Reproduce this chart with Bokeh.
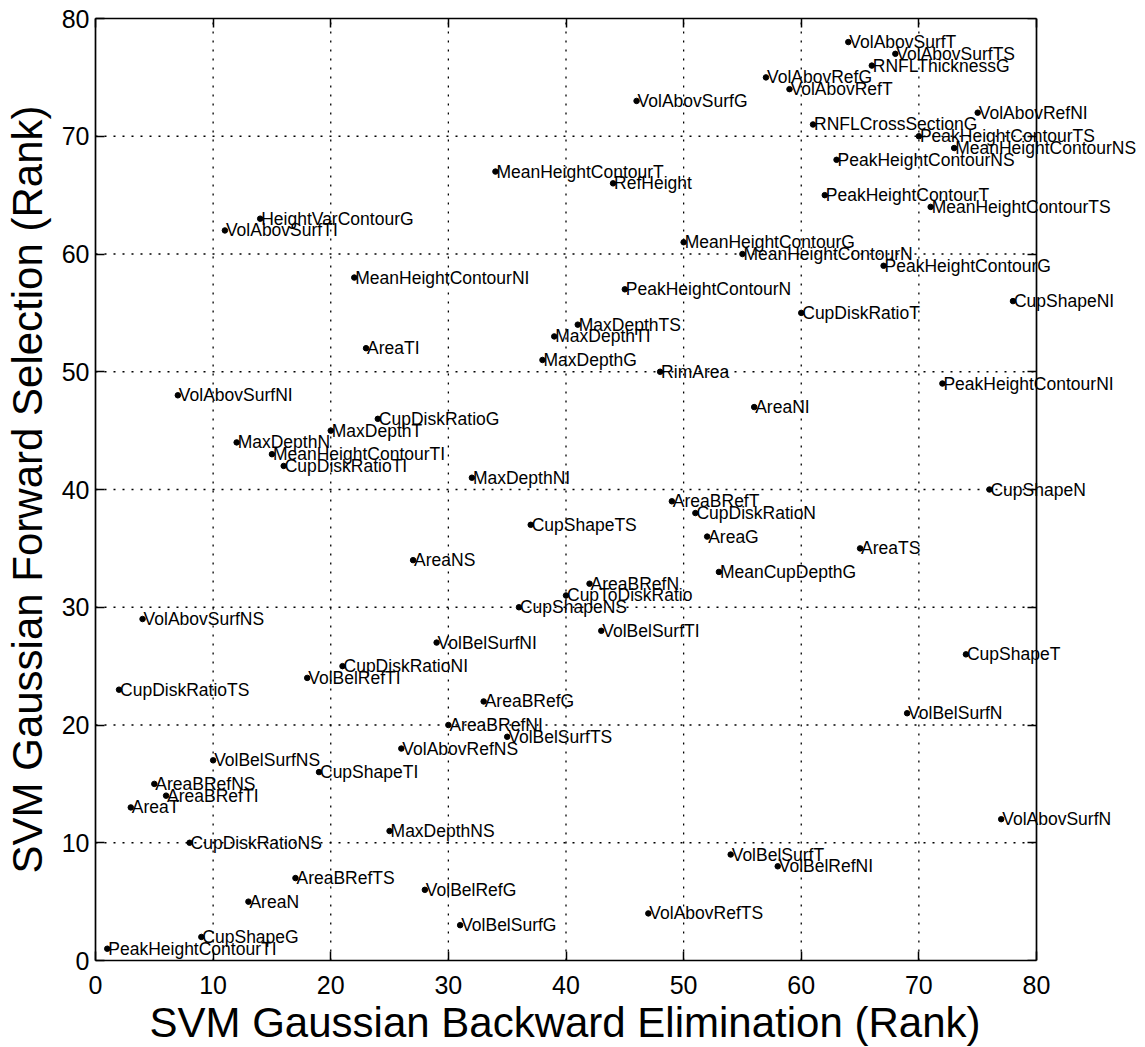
from bokeh.plotting import figure
from bokeh.models import ColumnDataSource, Label, LinearAxis, FixedTicker, Range1d, Title
from bokeh.embed import file_html
from bokeh.resources import INLINE

# ---- data (ranks) ----
feature_names = [
    "VolAbovSurfT", "VolAbovSurfTS", "RNFLThicknessG", "VolAbovRefG", "VolAbovRefT",
    "VolAbovSurfG", "VolAbovRefNI", "RNFLCrossSectionG", "PeakHeightContourTS", "MeanHeightContourNS",
    "PeakHeightContourNS", "MeanHeightContourT", "RefHeight", "PeakHeightContourT", "MeanHeightContourTS",
    "HeightVarContourG", "VolAbovSurfTI", "MeanHeightContourG", "MeanHeightContourN", "PeakHeightContourG",
    "MeanHeightContourNI", "PeakHeightContourN", "CupShapeNI", "CupDiskRatioT", "MaxDepthTS",
    "MaxDepthTI", "AreaTI", "MaxDepthG", "RimArea", "PeakHeightContourNI",
    "VolAbovSurfNI", "AreaNI", "CupDiskRatioG", "MaxDepthT", "MaxDepthN",
    "MeanHeightContourTI", "CupDiskRatioTI", "MaxDepthNI", "CupShapeN", "AreaBRefT",
    "CupDiskRatioN", "CupShapeTS", "AreaG", "AreaTS", "AreaNS",
    "MeanCupDepthG", "AreaBRefN", "CupToDiskRatio", "CupShapeNS", "VolAbovSurfNS",
    "VolBelSurfTI", "VolBelSurfNI", "CupShapeT", "CupDiskRatioNI", "VolBelRefTI",
    "CupDiskRatioTS", "AreaBRefG", "VolBelSurfN", "AreaBRefNI", "VolBelSurfTS",
    "VolAbovRefNS", "VolBelSurfNS", "CupShapeTI", "AreaBRefNS", "AreaBRefTI",
    "AreaT", "VolAbovSurfN", "MaxDepthNS", "CupDiskRatioNS", "VolBelSurfT",
    "VolBelRefNI", "AreaBRefTS", "VolBelRefG", "AreaN", "VolAbovRefTS",
    "VolBelSurfG", "CupShapeG", "PeakHeightContourTI",
]
backward_rank = [
    64, 68, 66, 57, 59,
    46, 75, 61, 70, 73,
    63, 34, 44, 62, 71,
    14, 11, 50, 55, 67,
    22, 45, 78, 60, 41,
    39, 23, 38, 48, 72,
    7, 56, 24, 20, 12,
    15, 16, 32, 76, 49,
    51, 37, 52, 65, 27,
    53, 42, 40, 36, 4,
    43, 29, 74, 21, 18,
    2, 33, 69, 30, 35,
    26, 10, 19, 5, 6,
    3, 77, 25, 8, 54,
    58, 17, 28, 13, 47,
    31, 9, 1,
]
forward_rank = [
    78, 77, 76, 75, 74,
    73, 72, 71, 70, 69,
    68, 67, 66, 65, 64,
    63, 62, 61, 60, 59,
    58, 57, 56, 55, 54,
    53, 52, 51, 50, 49,
    48, 47, 46, 45, 44,
    43, 42, 41, 40, 39,
    38, 37, 36, 35, 34,
    33, 32, 31, 30, 29,
    28, 27, 26, 25, 24,
    23, 22, 21, 20, 19,
    18, 17, 16, 15, 14,
    13, 12, 11, 10, 9,
    8, 7, 6, 5, 4,
    3, 2, 1,
]
x_ticks = [0, 10, 20, 30, 40, 50, 60, 70, 80]
y_ticks = [0, 10, 20, 30, 40, 50, 60, 70, 80]
x_title = "SVM Gaussian Backward Elimination (Rank)"
y_title = "SVM Gaussian Forward Selection (Rank)"

FONT = "Liberation Sans"

# layout: the axes box is BOX_W px wide; the frame is widened so that the
# feature names may run past the right edge of the box, as in the original.
BOX_W = 941
FRAME_W = 1041
x_lo, x_hi = x_ticks[0], x_ticks[-1]
x_frame_hi = x_lo + (x_hi - x_lo) * FRAME_W / BOX_W

src = ColumnDataSource(dict(x=backward_rank, y=forward_rank, name=feature_names))

p = figure(
    frame_width=FRAME_W, frame_height=942,
    x_range=Range1d(x_lo, x_frame_hi), y_range=Range1d(y_ticks[0], y_ticks[-1]),
    output_backend="svg", toolbar_location=None,
    min_border_left=85, min_border_right=0, min_border_top=18, min_border_bottom=0,
    background_fill_color="white", border_fill_color="white",
)
p.outline_line_color = None
p.grid.visible = False

def style_axis(ax, ticks, show_labels):
    ax.ticker = FixedTicker(ticks=ticks)
    ax.major_tick_in = 9
    ax.major_tick_out = 0
    ax.minor_tick_line_color = None
    ax.major_tick_line_color = "black"
    ax.major_tick_line_width = 1.5
    ax.axis_line_color = "black"
    ax.axis_line_width = 1.7
    ax.major_label_text_font = FONT
    ax.major_label_text_color = "black"
    ax.major_label_text_font_size = "25px"
    ax.major_label_standoff = 6
    if not show_labels:
        ax.major_label_text_alpha = 0
        ax.major_label_text_font_size = "1px"
        ax.major_label_standoff = 0

xa = p.xaxis[0]
ya = p.yaxis[0]
style_axis(xa, x_ticks, True)
style_axis(ya, y_ticks, True)
xa.bounds = (x_lo, x_hi)
xa.major_label_standoff = 15

ya.axis_label = y_title
ya.axis_label_text_font = FONT
ya.axis_label_text_font_size = "42px"
ya.axis_label_text_font_style = "normal"
ya.axis_label_text_color = "black"
ya.axis_label_standoff = 8

top_ax = LinearAxis(bounds=(x_lo, x_hi))
style_axis(top_ax, x_ticks, False)
p.add_layout(top_ax, "above")
right_ax = LinearAxis(fixed_location=x_hi)
style_axis(right_ax, y_ticks, False)
p.add_layout(right_ax, "right")

p.add_layout(Title(
    text=x_title, align="left", offset=54, vertical_align="top", standoff=4,
    text_font=FONT, text_font_size="42px", text_font_style="normal", text_color="black",
), "below")

# dotted grid lines, limited to the axes box
inner_x = x_ticks[1:-1]
inner_y = y_ticks[1:-1]
p.segment(x0=inner_x, x1=inner_x, y0=[y_ticks[0]] * len(inner_x), y1=[y_ticks[-1]] * len(inner_x),
          line_color="black", line_width=1.3, line_dash="2 7")
p.segment(x0=[x_lo] * len(inner_y), x1=[x_hi] * len(inner_y), y0=inner_y, y1=inner_y,
          line_color="black", line_width=1.3, line_dash="2 7")

p.scatter("x", "y", source=src, size=5.5, color="black")

for name, bx, fy in zip(feature_names, backward_rank, forward_rank):
    p.add_layout(Label(
        x=bx, y=fy, text=name, x_offset=1, y_offset=0,
        text_font=FONT, text_font_size="17.5px", text_color="black",
        text_baseline="middle", text_align="left",
    ))

open("out.html", "w").write(file_html(p, INLINE))
